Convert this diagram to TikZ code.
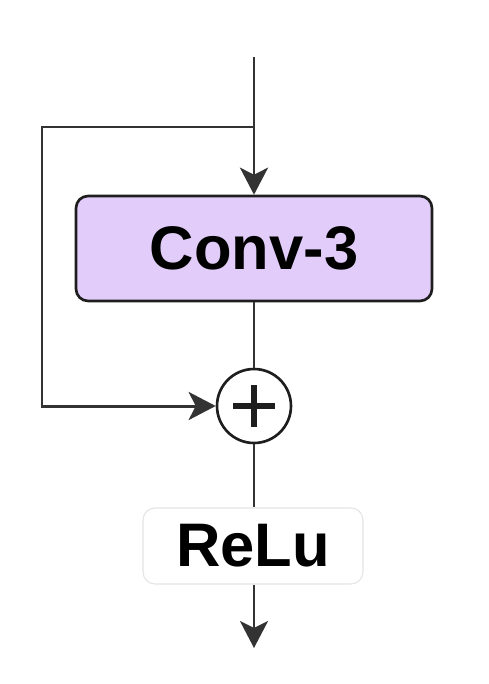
\documentclass[tikz,border=0pt]{standalone}
\usepackage{fontspec}
\setmainfont{Liberation Sans}
\usepackage{xcolor}
\usetikzlibrary{arrows.meta,positioning,calc}
\definecolor{ink}{HTML}{1E1E1E}
\definecolor{wire}{HTML}{333333}
\definecolor{lilac}{HTML}{E1CCFA}
\definecolor{lightedge}{HTML}{E4E4E4}
\tikzset{
  >={Stealth[length=5.4mm,width=5.6mm,inset=1.4mm]},
  block/.style={draw=ink, rounded corners=2.4mm, line width=1.5pt, inner sep=0pt,
    font=\fontsize{35}{42}\selectfont\bfseries},
  flow/.style={->, line width=1.7pt, color=wire},
  wireline/.style={line width=1.7pt, color=wire},
  sumnode/.style={circle, draw=ink, fill=white, line width=1.5pt, minimum size=1.48cm, inner sep=0pt,
    path picture={\draw[line width=3pt,ink]
      ($(path picture bounding box.center)+(-21,0)$) -- ($(path picture bounding box.center)+(21,0)$)
      ($(path picture bounding box.center)+(0,-21)$) -- ($(path picture bounding box.center)+(0,21)$);}}
}
\begin{document}
\begin{tikzpicture}[x=0.02cm,y=-0.02cm]
  \useasboundingbox (0,0) rectangle (488,684);

  % blocks
  \node[block,fill=lilac,minimum width=7.12cm,minimum height=2.1cm] (conv) at (254,248.5) {Conv-3};
  \node[sumnode] (add) at (254,406) {};
  \node[block,draw=lightedge,line width=0.6pt,fill=white,minimum width=4.4cm,minimum height=1.52cm] (relu) at (253,546) {ReLu};

  % input and skip path
  \coordinate (in) at (254,57);
  \coordinate (split) at (254,127);
  \coordinate (loop) at (42,127);
  \coordinate (out) at (254,648);
  \draw[flow] (in) -- (conv.north);
  \draw[flow] (split) -- (loop) |- (add.west);

  % main path
  \draw[wireline] (conv.south) -- (add.north);
  \draw[wireline] (add.south) -- (add.south |- relu.north);
  \draw[flow] (add.south |- relu.south) -- (out);
\end{tikzpicture}
\end{document}
